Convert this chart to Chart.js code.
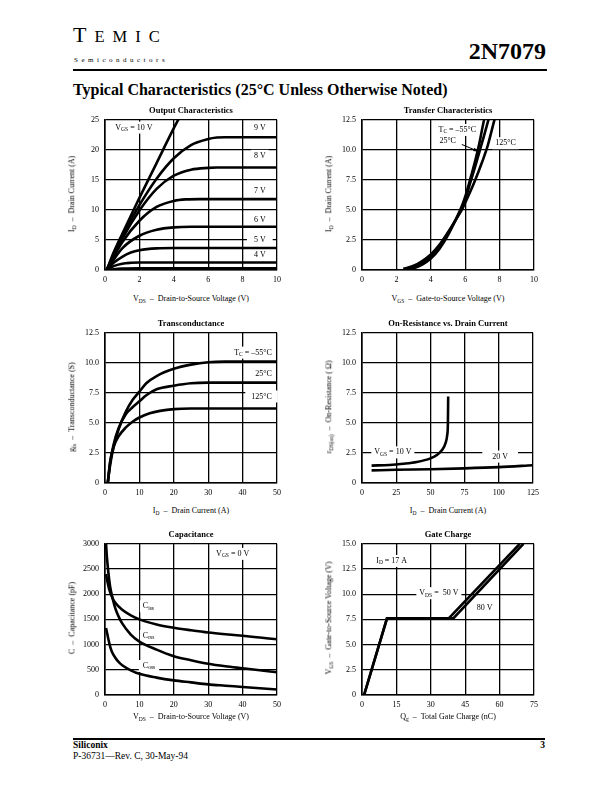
<!DOCTYPE html>
<html>
<head>
<meta charset="utf-8">
<script src="https://cdn.jsdelivr.net/npm/chart.js@4.4.1/dist/chart.umd.min.js"></script>
<style>
  body { margin: 0; width: 612px; height: 792px; position: relative; background: #fff; color: #000;
         font-family: "Liberation Serif", "DejaVu Serif", serif; overflow: hidden; }
  .abs { position: absolute; white-space: nowrap; }
  .ttl { font-weight: bold; font-size: 8.5px; }
  .ax { font-size: 8px; }
  sub { font-size: 5.5px; vertical-align: -1.5px; }
  .rule { position: absolute; background: #000; }
</style>
</head>
<body>

<div class="abs" style="left:73px; top:24px; letter-spacing:8px; line-height:1;">
  <span style="font-size:22px">T</span><span style="font-size:16.5px">EMIC</span>
</div>
<div class="abs" style="left:74px; top:56px; font-size:7px; letter-spacing:3.5px;">Semiconductors</div>
<div class="abs" style="right:66px; top:38px; font-size:24px; font-weight:bold;">2N7079</div>
<div class="rule" style="left:73px; top:69px; width:474px; height:1.5px;"></div>
<div class="abs" style="left:73px; top:81px; font-size:16px; font-weight:bold;">Typical Characteristics (25&deg;C Unless Otherwise Noted)</div>

<div class="rule" style="left:73px; top:738px; width:472px; height:1.5px;"></div>
<div class="abs" style="left:73px; top:740px; font-size:9.5px; font-weight:bold;">Siliconix</div>
<div class="abs" style="right:67px; top:740px; font-size:9.5px; font-weight:bold;">3</div>
<div class="abs" style="left:73px; top:751px; font-size:9.5px;">P-36731&mdash;Rev. C, 30-May-94</div>

<script>
// ---------- Output Characteristics: V_DS (V) vs I_D (A), one curve per V_GS ----------
const outXTicks = [0, 2, 4, 6, 8, 10];
const outYTicks = [0, 5, 10, 15, 20, 25];
const outVgs10 = [[0.1,0],[0.5,2.9],[1,6],[2,12],[3,17.8],[4,23.6],[4.4,25.8]];
const outVgs9  = [[0.1,0],[1,5.6],[2,10.8],[3,15.2],[4,18.6],[5,20.8],[6,21.8],[6.5,22.05],[7,22.1],[10,22.1]];
const outVgs8  = [[0.1,0],[1,5.2],[2,9.9],[3,13.5],[4,15.7],[5,16.7],[6,17],[6.5,17.05],[10,17.05]];
const outVgs7  = [[0.1,0],[1,4.6],[2,8.2],[3,10.5],[4,11.5],[4.7,11.75],[5.5,11.8],[10,11.8]];
const outVgs6  = [[0.1,0],[1,3.6],[2,5.7],[3,6.7],[4,7.1],[5,7.2],[10,7.2]];
const outVgs5  = [[0.1,0],[0.5,1.2],[1,2.2],[1.5,2.9],[2,3.3],[3,3.6],[4,3.65],[10,3.65]];
const outVgs4  = [[0.1,0],[0.5,0.65],[1,1.05],[1.5,1.2],[2,1.25],[10,1.25]];
const outVgs3  = [[0.1,0],[1,0.25],[2,0.3],[10,0.3]];

// ---------- Transfer Characteristics: V_GS (V) vs I_D (A) ----------
const trXTicks = [0, 2, 4, 6, 8, 10];
const trYTicks = [0, 2.5, 5, 7.5, 10, 12.5];
const trM55 = [[2.7,0.1],[3,0.15],[3.5,0.45],[4,0.95],[4.5,1.75],[5,2.9],[5.5,4.35],[5.8,5.3],[6,6.1],[6.3,7.6],[6.6,9.2],[6.8,10.4],[7.1,12.5],[7.2,13]];
const tr25  = [[2.5,0.1],[3,0.22],[3.5,0.6],[4,1.15],[4.5,1.95],[4.75,2.5],[5,3.05],[5.5,4.3],[5.8,5.15],[6,5.85],[6.3,7.3],[6.6,8.7],[6.85,9.95],[7.1,11.2],[7.35,12.5],[7.45,13]];
const tr125 = [[2.4,0.1],[3,0.35],[3.5,0.75],[4,1.3],[4.5,2.1],[5,3.15],[5.5,4.3],[5.8,5],[6,5.6],[6.5,7.2],[7,9.05],[7.3,10.3],[7.7,12.5],[7.8,13]];

// ---------- Transconductance: I_D (A) vs g_fs (S) ----------
const gfsXTicks = [0, 10, 20, 30, 40, 50];
const gfsYTicks = [0, 2.5, 5, 7.5, 10, 12.5];
const gfsM55 = [[0.8,0],[1.5,1.5],[2.5,3],[4,4.5],[6,5.9],[8,6.9],[10,7.6],[12,8.3],[15,8.9],[20,9.5],[25,9.85],[30,10.05],[35,10.1],[50,10.1]];
const gfs25  = [[0.8,0],[1.5,1.7],[2.5,3.2],[4,4.6],[6,5.7],[8,6.3],[10,6.8],[12,7.3],[15,7.8],[20,8.1],[25,8.3],[30,8.35],[50,8.35]];
const gfs125 = [[0.8,0],[1.5,1.8],[2.5,3],[4,3.9],[6,4.6],[8,5.1],[10,5.45],[13,5.8],[16,6],[20,6.15],[25,6.2],[50,6.2]];

// ---------- On-Resistance vs. Drain Current: I_D (A) vs r_DS(on) (Ω) ----------
const ronXTicks = [0, 25, 50, 75, 100, 125];
const ronYTicks = [0, 2.5, 5, 7.5, 10, 12.5];
const ronVgs10 = [[7,1.45],[20,1.5],[30,1.6],[40,1.75],[50,2.05],[55,2.35],[58.5,2.75],[61,3.3],[62.3,4],[62.8,5],[63,7.2]];
const ronVgs20 = [[7,1.05],[25,1.1],[50,1.15],[75,1.22],[100,1.32],[125,1.48]];

// ---------- Capacitance: V_DS (V) vs C (pF) ----------
const capXTicks = [0, 10, 20, 30, 40, 50];
const capYTicks = [0, 500, 1000, 1500, 2000, 2500, 3000];
const capCiss = [[0.3,2400],[0.7,2250],[1.2,2100],[2.2,1920],[3,1830],[5,1690],[7.5,1580],[10,1500],[15,1400],[20,1335],[25,1285],[30,1240],[35,1205],[40,1175],[45,1140],[50,1105]];
const capCrss = [[0.3,3000],[0.6,2700],[1,2420],[1.5,2150],[2.2,1920],[3,1720],[4,1550],[5,1420],[7.5,1200],[10,1060],[15,900],[20,770],[25,690],[30,620],[35,570],[40,530],[45,490],[50,450]];
const capCoss = [[0.3,1330],[0.7,1200],[1,1100],[1.5,960],[2,860],[3,740],[4,650],[5,590],[7.5,490],[10,420],[15,345],[20,290],[25,250],[30,210],[35,185],[40,160],[45,135],[50,110]];

// ---------- Gate Charge: Q_g (nC) vs V_GS (V) ----------
const qgXTicks = [0, 15, 30, 45, 60, 75];
const qgYTicks = [0, 2.5, 5, 7.5, 10, 12.5, 15];
const qgVds50 = [[0.9,0],[10.9,7.6],[37.8,7.6],[68.8,15]];
const qgVds80 = [[0.9,0],[10.9,7.6],[39.8,7.6],[70.4,15]];

// ---------------------------------------------------------------------------
const FONT = '"Liberation Serif", "DejaVu Serif", serif';
const one = v => (v === 0 ? '0' : v.toFixed(1));
const int = v => String(v);

// text notes inside the plots (with subscripts), placed in data units
const notesPlugin = {
  id: 'notes',
  beforeDatasetsDraw(chart, args, opts) {
    const ctx = chart.ctx, xs = chart.scales.x, ys = chart.scales.y;
    ctx.save();
    ctx.textBaseline = 'middle';
    (opts.items || []).forEach(it => {
      const px = xs.getPixelForValue(it.x), py = ys.getPixelForValue(it.y);
      let w = 0;
      const segs = it.t.map(([s, sub]) => {
        ctx.font = (sub ? '5.5px ' : '8px ') + FONT;
        const m = ctx.measureText(s).width;
        w += m;
        return { s, sub, m };
      });
      let x0 = it.align === 'right' ? px - w : it.align === 'center' ? px - w / 2 : px;
      if (it.bg) {
        const pad = it.pad || 3;
        ctx.fillStyle = '#fff';
        ctx.fillRect(x0 - pad, py - 6, w + pad * 2, 12);
      }
      ctx.fillStyle = '#000';
      segs.forEach(g => {
        ctx.font = (g.sub ? '5.5px ' : '8px ') + FONT;
        ctx.fillText(g.s, x0, py + (g.sub ? 2 : 0));
        x0 += g.m;
      });
    });
    ctx.restore();
  },
  afterDatasetsDraw(chart, args, opts) {
    const ctx = chart.ctx, xs = chart.scales.x, ys = chart.scales.y;
    (opts.arrows || []).forEach(a => {
      const x1 = xs.getPixelForValue(a.x1), y1 = ys.getPixelForValue(a.y1);
      const x2 = xs.getPixelForValue(a.x2), y2 = ys.getPixelForValue(a.y2);
      const ang = Math.atan2(y2 - y1, x2 - x1);
      ctx.save();
      ctx.strokeStyle = '#000';
      ctx.fillStyle = '#000';
      ctx.lineWidth = 1;
      ctx.beginPath(); ctx.moveTo(x1, y1); ctx.lineTo(x2, y2); ctx.stroke();
      ctx.beginPath();
      ctx.moveTo(x2, y2);
      ctx.lineTo(x2 - 6 * Math.cos(ang - 0.3), y2 - 6 * Math.sin(ang - 0.3));
      ctx.lineTo(x2 - 6 * Math.cos(ang + 0.3), y2 - 6 * Math.sin(ang + 0.3));
      ctx.closePath(); ctx.fill();
      ctx.restore();
    });
  }
};

function line(pts, opts) {
  return Object.assign({
    data: pts.map(([x, y]) => ({ x, y })),
    showLine: true, borderColor: '#000', borderWidth: 2.6, pointRadius: 0,
    fill: false, cubicInterpolationMode: 'monotone'
  }, opts || {});
}

function axis(ticks, fmt, isY) {
  return {
    type: 'linear',
    min: ticks[0], max: ticks[ticks.length - 1],
    afterBuildTicks: s => { s.ticks = ticks.map(v => ({ value: v })); },
    afterFit: s => { if (isY) s.width = 40; else s.height = 18; },
    grid: { color: '#000', lineWidth: 1.3, drawTicks: false },
    border: { color: '#000', width: 1.6 },
    ticks: { color: '#000', font: { family: FONT, size: 8 }, padding: isY ? 6 : 5,
             maxRotation: 0, autoSkip: false, callback: v => fmt(v) }
  };
}

function place(html, x, y, cls, rot) {
  const d = document.createElement('div');
  d.className = 'abs ' + cls;
  d.innerHTML = html;
  d.style.left = x + 'px';
  d.style.top = y + 'px';
  d.style.transform = 'translate(-50%,-50%)' + (rot ? ' rotate(-90deg)' : '');
  document.body.appendChild(d);
}

function panel(box, p) {
  const padT = 8, padR = 10;
  const c = document.createElement('canvas');
  const w = box.r - box.l + 40 + padR, h = box.b - box.t + padT + 18;
  c.width = w; c.height = h;
  c.style.cssText = `position:absolute;left:${box.l - 40}px;top:${box.t - padT}px;width:${w}px;height:${h}px`;
  document.body.appendChild(c);
  new Chart(c, {
    type: 'scatter',
    data: { datasets: p.datasets },
    options: {
      responsive: false, animation: false, events: [],
      layout: { padding: { top: padT, right: padR, left: 0, bottom: 0 } },
      scales: { x: axis(p.xTicks, p.xFmt, false), y: axis(p.yTicks, p.yFmt, true) },
      plugins: { legend: { display: false }, tooltip: { enabled: false }, notes: p.notes }
    },
    plugins: [notesPlugin]
  });
  const cx = (box.l + box.r) / 2, cy = (box.t + box.b) / 2;
  place(p.title, cx, box.t - 7, 'ttl');
  place(p.xTitle, cx, box.b + p.xTitleGap, 'ax');
  place(p.yTitle, box.l - 33, cy, 'ax', true);
}

const DASH = '&nbsp;&nbsp;&ndash;&nbsp;&nbsp;';

panel({ l: 105, r: 277, t: 117, b: 270 }, {
  title: 'Output Characteristics',
  xTitle: 'V<sub>DS</sub>' + DASH + 'Drain-to-Source Voltage (V)', xTitleGap: 29,
  yTitle: 'I<sub>D</sub>' + DASH + 'Drain Current (A)',
  xTicks: outXTicks, yTicks: outYTicks, xFmt: int, yFmt: int,
  datasets: [outVgs10, outVgs9, outVgs8, outVgs7, outVgs6, outVgs5, outVgs4, outVgs3].map(d => line(d)),
  notes: { items: [
    { x: 0.6, y: 23.7, t: [['V'], ['GS', 1], [' = 10 V']], bg: true },
    { x: 9.0, y: 23.7, t: [['9 V']], align: 'center', bg: true },
    { x: 9.0, y: 19.0, t: [['8 V']], align: 'center', bg: true },
    { x: 9.0, y: 13.2, t: [['7 V']], align: 'center', bg: true },
    { x: 9.0, y: 8.4, t: [['6 V']], align: 'center', bg: true },
    { x: 9.0, y: 5.0, t: [['5 V']], align: 'center', bg: true, pad: 7 },
    { x: 9.0, y: 2.45, t: [['4 V']], align: 'center', bg: true }
  ] }
});

panel({ l: 362, r: 534, t: 117, b: 270 }, {
  title: 'Transfer Characteristics',
  xTitle: 'V<sub>GS</sub>' + DASH + 'Gate-to-Source Voltage (V)', xTitleGap: 29,
  yTitle: 'I<sub>D</sub>' + DASH + 'Drain Current (A)',
  xTicks: trXTicks, yTicks: trYTicks, xFmt: int, yFmt: one,
  datasets: [trM55, tr25, tr125].map(d => line(d)),
  notes: {
    items: [
      { x: 4.45, y: 11.65, t: [['T'], ['C', 1], [' = \u201355\u00b0C']], bg: true },
      { x: 4.5, y: 10.75, t: [['25\u00b0C']], bg: true },
      { x: 7.75, y: 10.55, t: [['125\u00b0C']], bg: true }
    ],
    arrows: [{ x1: 5.8, y1: 10.45, x2: 6.8, y2: 9.85 }]
  }
});

panel({ l: 105, r: 277, t: 330, b: 483 }, {
  title: 'Transconductance',
  xTitle: 'I<sub>D</sub>' + DASH + 'Drain Current (A)', xTitleGap: 28,
  yTitle: 'g<sub>fs</sub>' + DASH + 'Transconductance (S)',
  xTicks: gfsXTicks, yTicks: gfsYTicks, xFmt: int, yFmt: one,
  datasets: [gfsM55, gfs25, gfs125].map(d => line(d)),
  notes: { items: [
    { x: 48.5, y: 10.85, t: [['T'], ['C', 1], [' = \u201355\u00b0C']], align: 'right', bg: true },
    { x: 48.5, y: 9.05, t: [['25\u00b0C']], align: 'right', bg: true },
    { x: 48.5, y: 7.2, t: [['125\u00b0C']], align: 'right', bg: true, pad: 6 }
  ] }
});

panel({ l: 362, r: 534, t: 330, b: 483 }, {
  title: 'On-Resistance vs. Drain Current',
  xTitle: 'I<sub>D</sub>' + DASH + 'Drain Current (A)', xTitleGap: 28,
  yTitle: 'r<sub>DS(on)</sub>' + DASH + 'On-Resistance ( &Omega;)',
  xTicks: ronXTicks, yTicks: ronYTicks, xFmt: int, yFmt: one,
  datasets: [ronVgs10, ronVgs20].map(d => line(d)),
  notes: { items: [
    { x: 9, y: 2.55, t: [['V'], ['GS', 1], [' = 10 V']], bg: true },
    { x: 101, y: 2.2, t: [['20 V']], align: 'center', bg: true, pad: 10 }
  ] }
});

panel({ l: 105, r: 277, t: 541, b: 695 }, {
  title: 'Capacitance',
  xTitle: 'V<sub>DS</sub>' + DASH + 'Drain-to-Source Voltage (V)', xTitleGap: 22,
  yTitle: 'C' + DASH + 'Capacitance (pF)',
  xTicks: capXTicks, yTicks: capYTicks, xFmt: int, yFmt: int,
  datasets: [capCiss, capCrss, capCoss].map(d => line(d)),
  notes: { items: [
    { x: 32.3, y: 2800, t: [['V'], ['GS', 1], [' = 0 V']], bg: true },
    { x: 11, y: 1760, t: [['C'], ['iss', 1]], bg: true },
    { x: 11, y: 1170, t: [['C'], ['rss', 1]], bg: true },
    { x: 11, y: 575, t: [['C'], ['oss', 1]], bg: true, pad: 4 }
  ] }
});

panel({ l: 362, r: 534, t: 541, b: 695 }, {
  title: 'Gate Charge',
  xTitle: 'Q<sub>g</sub>' + DASH + 'Total Gate Charge (nC)', xTitleGap: 22,
  yTitle: 'V<sub>GS</sub>' + DASH + 'Gate-to-Source Voltage (V)',
  xTicks: qgXTicks, yTicks: qgYTicks, xFmt: int, yFmt: one,
  datasets: [qgVds50, qgVds80].map(d => line(d, { cubicInterpolationMode: 'default', tension: 0 })),
  notes: { items: [
    { x: 6.2, y: 13.3, t: [['I'], ['D', 1], [' = 17 A']], bg: true },
    { x: 25, y: 10.1, t: [['V'], ['DS', 1], [' =  50 V']], bg: true },
    { x: 50, y: 8.65, t: [['80 V']], bg: true }
  ] }
});
</script>
</body>
</html>
